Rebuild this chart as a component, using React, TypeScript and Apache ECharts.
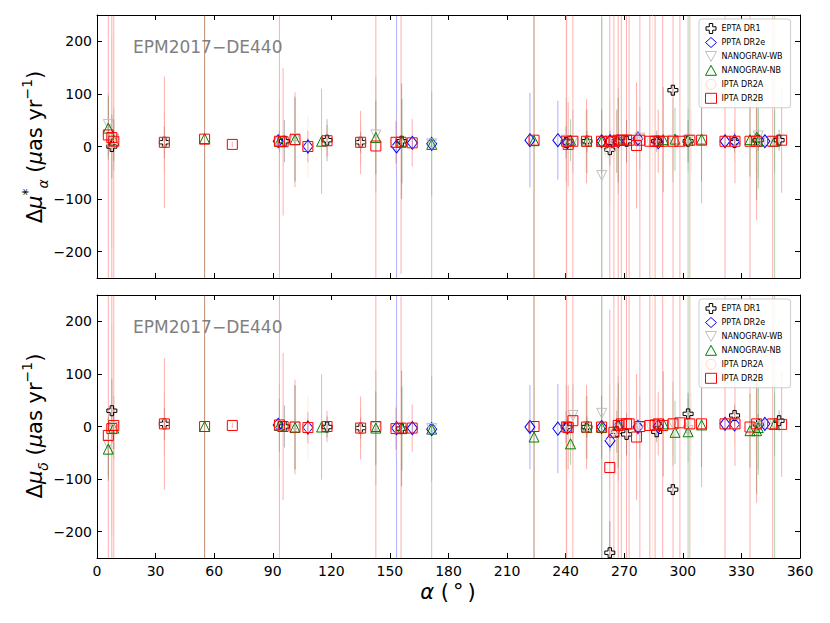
import React, { useEffect, useRef } from 'react';
import * as echarts from 'echarts';

// ---------- axis ticks ----------
const X_TICKS = [0, 30, 60, 90, 120, 150, 180, 210, 240, 270, 300, 330, 360];
const Y_TICKS = [-200, -100, 0, 100, 200];
const PANEL_TAG = 'EPM2017\u2212DE440';

// ---------- EPTA DR1 ----------
const EPTA_RA = [7.6, 34.5, 96.0, 117.8, 135.0, 156.0, 240.2, 250.9, 262.6, 266.1, 271.2, 286.6, 294.9, 302.7, 326.5, 338.6, 349.3];
const EPTA_MUA = [0, 8, 10, 12, 8, 10, 8, 10, -6, 10, 10, 10, 107, 10, 8, 12, 12];
const EPTA_MUA_ERR = [60, 30, 40, 40, 20, 110, 30, 20, 30, 60, 40, 20, 10, 40, 20, 20, 20];
const EPTA_MUD = [30, 5, 0, -1, -3, -4, -1, -1, -240, -10, -15, -10, -120, 24, 21, 4, 11];
const EPTA_MUD_ERR = [60, 30, 40, 20, 20, 110, 30, 20, 60, 40, 40, 20, 10, 40, 20, 20, 20];

// ---------- PPTA DR2e ----------
const PPTA_RA = [92.8, 108.0, 153.4, 161.5, 171.4, 221.7, 236.0, 240.9, 258.4, 262.7, 266.9, 277.0, 287.4, 321.6, 326.5, 342.0];
const PPTA_MUA = [10, 0, 0, 7, 5, 12, 12, 8, 10, 10, 10, 15, 8, 10, 10, 10];
const PPTA_MUA_ERR = [10, 15, 300, 10, 10, 90, 75, 10, 5, 20, 10, 15, 3, 10, 8, 10];
const PPTA_MUD = [3, -2, -3, -3, -5, -1, -4, -2, -1, -27, 0, -1, 0, 5, 4, 5];
const PPTA_MUD_ERR = [10, 15, 300, 10, 10, 80, 85, 10, 5, 20, 10, 15, 3, 10, 8, 10];

// ---------- NANOGRAV-WB ----------
const NGWB_RA = [5.8, 8.6, 101.4, 142.8, 171.4, 240.2, 243.7, 258.5, 266.9, 278.0, 294.9, 302.7, 338.6, 347.0];
const NGWB_MUA = [42, 14, 15, 22, 5, 12, 10, -55, 10, 16, 12, 12, 20, 10];
const NGWB_MUA_ERR = [60, 60, 80, 110, 100, 80, 60, 300, 100, 60, 80, 60, 80, 60];
const NGWB_MUD = [-35, -2, -1, -2, -4, 0, 21, 25, -3, -2, 5, -8, -2, 4];
const NGWB_MUD_ERR = [60, 60, 80, 110, 100, 80, 60, 300, 100, 60, 80, 60, 80, 60];

// ---------- NANOGRAV-NB ----------
const NGNB_RA = [5.8, 8.6, 55.1, 93.4, 101.4, 115.0, 142.8, 156.2, 171.4, 223.8, 242.5, 250.9, 258.5, 266.9, 290.0, 296.0, 302.7, 309.6, 334.4, 337.8, 338.6, 347.0];
const NGNB_MUA = [35, 12, 15, 10, 13, 10, 17, 10, 4, 11, 12, 10, 10, 12, 13, 14, 12, 14, 13, 18, 10, 10];
const NGNB_MUA_ERR = [60, 40, 300, 20, 80, 100, 70, 80, 300, 300, 40, 60, 300, 80, 100, 60, 300, 80, 70, 120, 90, 300];
const NGNB_MUD = [-43, -3, 0, 2, -2, -1, -3, -4, -5, -20, -33, -2, -2, 2, 5, -11, -10, 3, -8, -8, -2, 4];
const NGNB_MUD_ERR = [60, 40, 300, 50, 80, 100, 70, 80, 300, 300, 40, 60, 300, 80, 100, 60, 300, 80, 70, 120, 90, 300];

// ---------- IPTA DR2A ----------
const IPTA2A_RA = [7.6, 34.5, 93.4, 108.0, 135.0, 153.1, 240.2, 250.0, 262.6, 266.1, 284.4, 294.9, 304.3, 326.5, 337.4];
const IPTA2A_MUA = [8, 8, 10, 0, 8, 8, 10, 10, -12, 10, 10, 10, 10, 10, 10];
const IPTA2A_MUA_ERR = [200, 60, 80, 60, 40, 60, 300, 60, 100, 60, 300, 60, 60, 40, 60];
const IPTA2A_MUD = [-5, 5, 2, -2, -3, -3, -1, -1, -20, -6, 2, 4, 4, 5, 4];
const IPTA2A_MUD_ERR = [200, 60, 80, 60, 40, 60, 300, 60, 100, 60, 300, 60, 60, 40, 60];

// ---------- IPTA DR2B ----------
const IPTA2B_RA = [5.8, 7.6, 8.6, 34.5, 55.1, 69.3, 93.4, 95.3, 101.4, 108.0, 117.8, 135.0, 142.8, 153.1, 155.7, 161.4, 223.8, 240.5, 241.3, 243.7, 250.7, 258.4, 262.6, 264.7, 266.9, 268.5, 271.2, 272.5, 276.3, 278.0, 283.1, 285.8, 287.4, 289.7, 295.0, 298.5, 303.6, 309.6, 321.6, 326.7, 334.4, 337.8, 346.0, 350.6];
const IPTA2B_MUA = [22, 17, 10, 8, 14, 4, 10, 9, 13, 0, 11, 8, 1, 8, 8, 7, 12, 10, 4, 10, 10, 10, 10, 10, 12, 12, 12, 12, 2, 12, 10, 10, 10, 10, 10, 10, 12, 12, 10, 10, 10, 10, 10, 12];
const IPTA2B_MUA_ERR = [300, 300, 300, 125, 300, 5, 300, 140, 90, 30, 30, 60, 300, 40, 250, 45, 300, 260, 80, 300, 80, 60, 300, 300, 300, 300, 300, 300, 120, 300, 300, 300, 60, 300, 300, 300, 300, 120, 300, 80, 300, 150, 300, 100];
const IPTA2B_MUD = [-17, -4, 2, 5, 0, 2, 3, 0, -1, -2, 0, -3, 0, -4, -3, -3, 0, -1, -2, 11, -1, -1, -78, -11, 2, 5, 5, 5, -20, 0, 2, 3, 5, 2, 5, 7, 5, 5, 5, 5, -1, 5, 5, 4];
const IPTA2B_MUD_ERR = [300, 300, 300, 125, 300, 5, 300, 140, 90, 30, 30, 60, 300, 40, 250, 45, 300, 260, 80, 300, 80, 60, 300, 300, 300, 300, 300, 300, 120, 300, 300, 300, 60, 300, 300, 300, 300, 120, 300, 80, 300, 150, 300, 100];

const PLUS = 'path://M3.3,0 H6.7 V3.3 H10 V6.7 H6.7 V10 H3.3 V6.7 H0 V3.3 H3.3 Z';
const DOWN_TRI = 'path://M0,0 L10,0 L5,9 Z';
const UP_TRI = 'path://M5,0 L10,9 L0,9 Z';
const FONT = 'DejaVu Sans';

const DATASETS = [
  { name: 'EPTA DR1', color: '#000000', err: 'rgba(0,0,0,0.28)', symbol: PLUS, size: 10, ra: EPTA_RA, a: EPTA_MUA, ae: EPTA_MUA_ERR, d: EPTA_MUD, de: EPTA_MUD_ERR },
  { name: 'PPTA DR2e', color: '#0000ff', err: 'rgba(0,0,255,0.32)', symbol: 'diamond', size: [10, 13], ra: PPTA_RA, a: PPTA_MUA, ae: PPTA_MUA_ERR, d: PPTA_MUD, de: PPTA_MUD_ERR },
  { name: 'NANOGRAV-WB', color: '#bfbfbf', err: 'rgba(150,150,150,0.32)', symbol: DOWN_TRI, size: 10, ra: NGWB_RA, a: NGWB_MUA, ae: NGWB_MUA_ERR, d: NGWB_MUD, de: NGWB_MUD_ERR },
  { name: 'NANOGRAV-NB', color: '#008000', err: 'rgba(0,128,0,0.32)', symbol: UP_TRI, size: 10, ra: NGNB_RA, a: NGNB_MUA, ae: NGNB_MUA_ERR, d: NGNB_MUD, de: NGNB_MUD_ERR },
  { name: 'IPTA DR2A', color: '#ffdab9', err: 'rgba(255,210,170,0.4)', symbol: 'circle', size: 10, ra: IPTA2A_RA, a: IPTA2A_MUA, ae: IPTA2A_MUA_ERR, d: IPTA2A_MUD, de: IPTA2A_MUD_ERR },
  { name: 'IPTA DR2B', color: '#ff0000', err: 'rgba(255,0,0,0.32)', symbol: 'rect', size: 10, ra: IPTA2B_RA, a: IPTA2B_MUA, ae: IPTA2B_MUA_ERR, d: IPTA2B_MUD, de: IPTA2B_MUD_ERR },
];

const minus = (v: number) => String(v).replace('-', '\u2212');

function xAxis(grid: number, pos: 'top' | 'bottom', labels: boolean) {
  return {
    type: 'value', gridIndex: grid, position: pos, min: 0, max: 360, interval: 30,
    axisLine: { show: true, onZero: false, lineStyle: { color: '#000', width: 1 } },
    axisTick: { show: true, inside: true, length: 5, lineStyle: { color: '#000', width: 1 } },
    axisLabel: { show: labels, margin: 6, fontSize: 14, color: '#000', fontFamily: FONT, showMinLabel: true, showMaxLabel: true, hideOverlap: false },
    splitLine: { show: false },
  };
}
function yAxis(grid: number, pos: 'left' | 'right', labels: boolean) {
  return {
    type: 'value', gridIndex: grid, position: pos, min: -250, max: 250,
    axisLine: { show: true, onZero: false, lineStyle: { color: '#000', width: 1 } },
    axisTick: { show: true, inside: true, length: 5, customValues: Y_TICKS, lineStyle: { color: '#000', width: 1 } },
    axisLabel: { show: labels, margin: 5, fontSize: 14, color: '#000', fontFamily: FONT, customValues: Y_TICKS, formatter: (v: number) => minus(v) },
    splitLine: { show: false },
  };
}

function legend(top: number) {
  return {
    data: DATASETS.map((d) => ({
      name: d.name, icon: d.symbol,
      itemStyle: { color: 'rgba(255,255,255,0)', borderColor: d.color, borderWidth: 1 },
    })),
    orient: 'vertical', left: 699, top,
    itemWidth: 11, itemHeight: 10, itemGap: 3, padding: [4, 8, 4, 6],
    borderColor: '#cccccc', borderWidth: 1, borderRadius: 3, backgroundColor: 'rgba(255,255,255,0.85)',
    itemStyle: { borderWidth: 1 },
    selectedMode: false, textStyle: { fontSize: 8, color: '#000', fontFamily: FONT },
  };
}

function buildSeries() {
  const series: any[] = [];
  [0, 1].forEach((panel) => {
    const axisIdx = panel * 2;
    DATASETS.forEach((ds) => {
      const vals = panel === 0 ? ds.a : ds.d;
      const errs = panel === 0 ? ds.ae : ds.de;
      const errData = ds.ra.map((r, i) => [r, vals[i], errs[i]]);
      series.push({
        type: 'custom', name: ds.name + ' err', xAxisIndex: axisIdx, yAxisIndex: axisIdx, clip: true, z: 1,
        silent: true, data: errData,
        renderItem: (_p: any, api: any) => {
          const x = api.value(0), y = api.value(1), e = api.value(2);
          const p1 = api.coord([x, y - e]);
          const p2 = api.coord([x, y + e]);
          return { type: 'line', shape: { x1: p1[0], y1: p1[1], x2: p2[0], y2: p2[1] }, style: { stroke: ds.err, lineWidth: 1 } };
        },
      });
    });
    DATASETS.forEach((ds) => {
      const vals = panel === 0 ? ds.a : ds.d;
      series.push({
        type: 'scatter', name: ds.name, xAxisIndex: axisIdx, yAxisIndex: axisIdx, z: 3,
        symbol: ds.symbol, symbolSize: ds.size, symbolKeepAspect: false,
        itemStyle: { color: 'rgba(255,255,255,0)', borderColor: ds.color, borderWidth: 1, opacity: 1 },
        emphasis: { disabled: true },
        data: ds.ra.map((r, i) => [r, vals[i]]),
      });
    });
  });
  return series;
}

const RICH = {
  m: { fontSize: 21, fontFamily: FONT, fill: '#000', lineHeight: 30 },
  i: { fontSize: 21, fontFamily: FONT, fontStyle: 'italic', fill: '#000', lineHeight: 30 },
  sup: { fontSize: 14, fontFamily: FONT, fill: '#000', verticalAlign: 'top', lineHeight: 14 },
  sub: { fontSize: 14, fontFamily: FONT, fontStyle: 'italic', fill: '#000', verticalAlign: 'bottom', lineHeight: 16 },
  deg: { fontSize: 21, fontFamily: FONT, fill: '#000', lineHeight: 30, padding: [0, 4, 0, 4] },
};

export default function App() {
  const ref = useRef<HTMLDivElement>(null);
  useEffect(() => {
    if (!ref.current) return;
    const chart = echarts.init(ref.current, null, { renderer: 'svg' });
    const option: any = {
      animation: false,
      backgroundColor: '#ffffff',
      textStyle: { fontFamily: FONT },
      grid: [
        { left: 97, top: 15, width: 703, height: 263, outerBoundsMode: 'none' },
        { left: 97, top: 295, width: 703, height: 263, outerBoundsMode: 'none' },
      ],
      xAxis: [xAxis(0, 'bottom', false), xAxis(0, 'top', false), xAxis(1, 'bottom', true), xAxis(1, 'top', false)],
      yAxis: [yAxis(0, 'left', true), yAxis(0, 'right', false), yAxis(1, 'left', true), yAxis(1, 'right', false)],
      legend: [legend(19), legend(299)],
      series: buildSeries(),
      graphic: [
        { type: 'text', left: 133, top: 38, z: 10, style: { text: PANEL_TAG, fontSize: 17, fill: '#808080', fontFamily: FONT } },
        { type: 'text', left: 133, top: 318, z: 10, style: { text: PANEL_TAG, fontSize: 17, fill: '#808080', fontFamily: FONT } },
        {
          type: 'text', x: 35, y: 147, rotation: Math.PI / 2, z: 10,
          style: { text: '{m|\u0394}{i|\u03bc}{sup|*}{sub|\u03b1}{m| (}{i|\u03bc}{m|as yr}{sup|\u22121}{m|)}', rich: RICH, align: 'center', verticalAlign: 'middle' },
        },
        {
          type: 'text', x: 35, y: 426, rotation: Math.PI / 2, z: 10,
          style: { text: '{m|\u0394}{i|\u03bc}{sub|\u03b4}{m| (}{i|\u03bc}{m|as yr}{sup|\u22121}{m|)}', rich: RICH, align: 'center', verticalAlign: 'middle' },
        },
        {
          type: 'text', x: 448, y: 592, z: 10,
          style: { text: '{i|\u03b1}{m| (}{deg|\u00b0}{m|)}', rich: RICH, align: 'center', verticalAlign: 'middle' },
        },
      ],
    };
    chart.setOption(option);
    return () => chart.dispose();
  }, []);
  return <div ref={ref} style={{ position: 'absolute', left: 0, top: 0, width: 830, height: 623 }} />;
}
